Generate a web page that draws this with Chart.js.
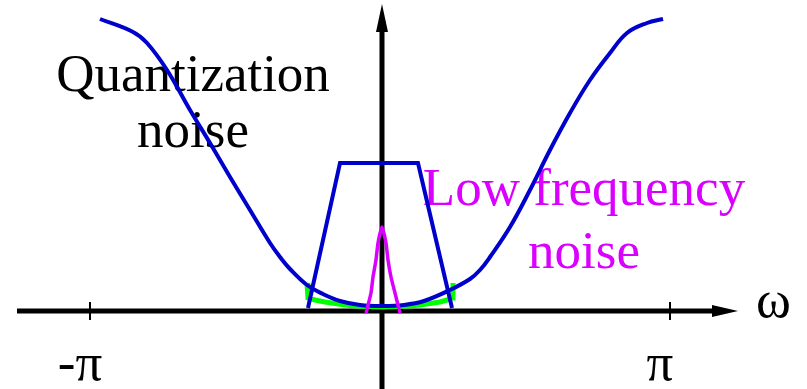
<!DOCTYPE html>
<html>
<head>
<meta charset="utf-8">
<script src="https://cdn.jsdelivr.net/npm/chart.js@4/dist/chart.umd.min.js"></script>
<style>
  html, body { margin: 0; padding: 0; background: #fff; }
  canvas { display: block; }
</style>
</head>
<body>
<canvas id="chart" width="807" height="389"></canvas>
<script>
// x is omega / pi, y is relative noise level (1 = top of the quantization curve)

// quantization noise shape
const quantX = [-0.9655, -0.8517, -0.8034, -0.7345, -0.6552, -0.5862, -0.5172, -0.4483, -0.3793, -0.3448, -0.3103, -0.2517, -0.1966, -0.1379, -0.0690, 0.0069,
  0.0828, 0.1517, 0.2414, 0.3103, 0.3448, 0.3793, 0.4483, 0.5172, 0.5862, 0.6552, 0.7241, 0.7931, 0.8517, 0.9207, 0.9759];
const quantY = [0.9966, 0.9522, 0.9147, 0.8225, 0.6860, 0.5734, 0.4573, 0.3447, 0.2321, 0.1843, 0.1433, 0.0887, 0.0580, 0.0341, 0.0205, 0.0171,
  0.0205, 0.0341, 0.0717, 0.1092, 0.1399, 0.1843, 0.2867, 0.4130, 0.5495, 0.6758, 0.7884, 0.8805, 0.9488, 0.9829, 0.9966];

// low-pass filter (trapezoid)
const filterX = [-0.2483, -0.1379, 0.1310, 0.2483];
const filterY = [0.0102, 0.5051, 0.5051, 0.0102];

// filtered quantization noise (green)
const filteredX = [-0.2517, -0.2483, -0.2241, -0.1897, -0.1552, -0.1207, -0.0862, -0.0517, 0.0069, 0.0690, 0.1034, 0.1379, 0.1724, 0.2069, 0.2310, 0.2483, 0.2517];
const filteredY = [0.0956, 0.0444, 0.0375, 0.0307, 0.0256, 0.0205, 0.0171, 0.0154, 0.0137, 0.0154, 0.0171, 0.0205, 0.0256, 0.0307, 0.0375, 0.0444, 0.0956];

// low frequency noise spike
const lfX = [-0.0483, -0.0310, -0.0241, -0.0138, -0.0069, 0.0069, 0.0207, 0.0276, 0.0379, 0.0517, 0.0690];
const lfY = [-0.0068, 0.0614, 0.1160, 0.1741, 0.2321, 0.2867, 0.2321, 0.1741, 0.1160, 0.0614, -0.0068];

// axis ticks and labels
const tickValues = [-1, 1];
const tickLabels = ["-\u03c0", "\u03c0"];
const axisLabel = "\u03c9";
const quantLabel = ["Quantization", "noise"];
const lfLabel = ["Low frequency", "noise"];

const BLUE = "#0000cc";
const MAGENTA = "#d900ff";
const GREEN = "#00ff00";
const FONT = "53px 'Liberation Serif', 'DejaVu Serif', serif";

function pts(xs, ys) {
  return xs.map((x, i) => ({ x: x, y: ys[i] }));
}

const decorations = {
  id: "decorations",
  beforeDatasetsDraw(chart) {
    const ctx = chart.ctx;
    const sx = chart.scales.x;
    const sy = chart.scales.y;
    const x0 = sx.getPixelForValue(0) + 2;
    const y0 = sy.getPixelForValue(0);

    ctx.save();
    // text labels
    ctx.font = FONT;
    ctx.textAlign = "center";
    ctx.textBaseline = "alphabetic";
    ctx.fillStyle = "#000";
    ctx.fillText(quantLabel[0], 193, 91);
    ctx.fillText(quantLabel[1], 193, 147);
    tickLabels.forEach((t, i) => {
      ctx.fillText(t, sx.getPixelForValue(tickValues[i]) - 10, 380);
    });
    ctx.textAlign = "left";
    ctx.fillText(axisLabel, 756, 317);
    ctx.textAlign = "center";
    ctx.fillStyle = MAGENTA;
    ctx.fillText(lfLabel[0], 584, 205);
    ctx.fillText(lfLabel[1], 584, 268);

    // axes
    ctx.strokeStyle = "#000";
    ctx.fillStyle = "#000";
    ctx.lineWidth = 5;
    ctx.beginPath();
    ctx.moveTo(17, y0);
    ctx.lineTo(716, y0);
    ctx.moveTo(x0, chart.height);
    ctx.lineTo(x0, 30);
    ctx.stroke();
    // arrow heads
    ctx.beginPath();
    ctx.moveTo(738, y0);
    ctx.lineTo(712, y0 - 6);
    ctx.lineTo(712, y0 + 6);
    ctx.closePath();
    ctx.fill();
    ctx.beginPath();
    ctx.moveTo(x0, 4);
    ctx.lineTo(x0 - 6, 32);
    ctx.lineTo(x0 + 6, 32);
    ctx.closePath();
    ctx.fill();
    // ticks
    ctx.lineWidth = 2;
    ctx.beginPath();
    tickValues.forEach(v => {
      const px = sx.getPixelForValue(v);
      ctx.moveTo(px, y0 - 9);
      ctx.lineTo(px, y0 + 9);
    });
    ctx.stroke();
    ctx.restore();
  }
};

new Chart(document.getElementById("chart"), {
  type: "line",
  data: {
    datasets: [
      {
        data: pts(lfX, lfY),
        borderColor: MAGENTA,
        borderWidth: 3.5,
        tension: 0.15
      },
      {
        data: pts(filterX, filterY),
        borderColor: BLUE,
        borderWidth: 4,
        tension: 0
      },
      {
        data: pts(quantX, quantY),
        borderColor: BLUE,
        borderWidth: 4,
        tension: 0.4
      },
      {
        data: pts(filteredX, filteredY),
        borderColor: GREEN,
        borderWidth: 5,
        tension: 0
      }
    ]
  },
  options: {
    responsive: false,
    animation: false,
    devicePixelRatio: 1,
    layout: { padding: 0 },
    elements: { point: { radius: 0 } },
    plugins: { legend: { display: false }, tooltip: { enabled: false } },
    scales: {
      x: { type: "linear", min: -1.3103, max: 1.4724, display: false },
      y: { type: "linear", min: -0.2662, max: 1.0614, display: false }
    }
  },
  plugins: [decorations]
});
</script>
</body>
</html>
